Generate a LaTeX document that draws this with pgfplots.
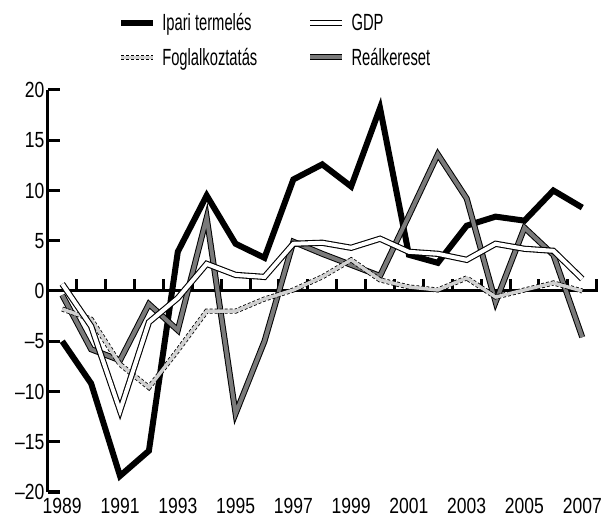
\documentclass[border=0pt]{standalone}
\usepackage{pgfplots}
\pgfplotsset{compat=1.18}
\usepackage{fontspec}
\setmainfont{Liberation Sans}
\newfontfamily\legfont{Liberation Sans}[FakeStretch=0.63]
\newfontfamily\tickfont{Liberation Sans}[FakeStretch=0.8]
\definecolor{realgray}{RGB}{122,122,122}
\definecolor{empgray}{RGB}{208,208,208}
\begin{document}
\begin{tikzpicture}
\path[use as bounding box] (-47.8bp,-28bp) rectangle (555.2bp,492bp);
\begin{axis}[
  scale only axis, width=548.9bp, height=402bp,
  xmin=1988.5, xmax=2007.5, ymin=-20, ymax=20,
  axis x line=none, axis y line=left,
  axis line style={line width=3bp, -},
  every outer y axis line/.append style={-},
  ytick={-20,-15,-10,-5,0,5,10,15,20},
  yticklabels={–20,–15,–10,–5,0,5,10,15,20},
  tick align=inside, major tick length=12bp,
  tick style={line width=3bp, black},
  yticklabel style={font=\tickfont\fontsize{22}{22}\selectfont},
  clip=false,
  legend image code/.code={\draw[#1] (0bp,0bp) -- (32bp,0bp);},
  legend columns=2,
  legend cell align=left,
  legend style={draw=none, fill=none, inner sep=0pt,
    at={(axis description cs:0.128,1)}, anchor=south west, yshift=20bp,
    font=\legfont\fontsize{23.5}{23.5}\selectfont,
    nodes={inner xsep=6bp, inner ysep=3bp},
    row sep=10bp,
    /tikz/every even column/.append style={column sep=44bp}},
]
% zero line and upward tick marks at category boundaries
\addplot[forget plot, draw=black, line width=3bp, line cap=rect] coordinates {(1988.5,0) (2007.5,0)};
\addplot[forget plot, ycomb, draw=black, line width=3bp, mark=none] coordinates {
(1989.5,1.2) (1990.5,1.2) (1991.5,1.2) (1992.5,1.2) (1993.5,1.2) (1994.5,1.2) (1995.5,1.2) (1996.5,1.2) (1997.5,1.2) (1998.5,1.2) (1999.5,1.2) (2000.5,1.2) (2001.5,1.2) (2002.5,1.2) (2003.5,1.2) (2004.5,1.2) (2005.5,1.2) (2006.5,1.2) (2007.5,1.2)};
% Ipari termeles
\addplot[forget plot, draw=black, line width=6bp, line join=miter] coordinates {
(1989,-5.0) (1990,-9.2) (1991,-18.4) (1992,-15.9) (1993,3.9) (1994,9.5) (1995,4.7) (1996,3.3) (1997,11.1) (1998,12.6) (1999,10.4) (2000,18.2) (2001,3.6) (2002,2.8) (2003,6.5) (2004,7.4) (2005,7.0) (2006,10.0) (2007,8.3)};
% Realkereset
\addplot[forget plot, draw=black, line width=1bp, double=realgray, double distance=4bp, line join=miter] coordinates {
(1989,-0.4) (1990,-5.8) (1991,-6.9) (1992,-1.3) (1993,-3.9) (1994,7.3) (1995,-12.2) (1996,-5.0) (1997,4.9) (1998,3.7) (1999,2.6) (2000,1.5) (2001,7.5) (2002,13.6) (2003,9.2) (2004,-1.1) (2005,6.3) (2006,3.6) (2007,-4.6)};
% Foglalkoztatas
\addplot[forget plot, draw=black, line width=5bp, dash pattern=on 3bp off 2bp, line join=miter, postaction={draw=empgray, solid, line width=3.4bp}] coordinates {
(1989,-1.8) (1990,-2.8) (1991,-7.3) (1992,-9.6) (1993,-5.9) (1994,-2.0) (1995,-2.0) (1996,-0.8) (1997,0.1) (1998,1.4) (1999,3.1) (2000,1.1) (2001,0.4) (2002,0.1) (2003,1.3) (2004,-0.6) (2005,0.1) (2006,0.8) (2007,0.0)};
% GDP
\addplot[forget plot, draw=black, line width=1.1bp, double=white, double distance=4bp, line join=miter] coordinates {
(1989,0.7) (1990,-3.5) (1991,-11.9) (1992,-3.1) (1993,-0.7) (1994,2.7) (1995,1.6) (1996,1.4) (1997,4.7) (1998,4.8) (1999,4.3) (2000,5.2) (2001,3.9) (2002,3.7) (2003,3.1) (2004,4.7) (2005,4.2) (2006,4.0) (2007,1.2)};
\addlegendimage{draw=black, line width=6bp}
\addlegendentry{Ipari termelés}
\addlegendimage{draw=black, line width=1.1bp, double=white, double distance=4bp}
\addlegendentry{GDP}
\addlegendimage{draw=black, line width=5bp, dash pattern=on 3bp off 2bp, postaction={draw=empgray, solid, line width=3.4bp}}
\addlegendentry{Foglalkoztatás}
\addlegendimage{draw=black, line width=1bp, double=realgray, double distance=4bp}
\addlegendentry{Reálkereset}
\end{axis}
\begin{axis}[
  scale only axis, width=548.9bp, height=402bp,
  xmin=1988.5, xmax=2007.5, ymin=-20, ymax=20,
  hide y axis, axis x line*=bottom,
  x axis line style={draw=none},
  xtick={1989,1991,1993,1995,1997,1999,2001,2003,2005,2007},
  xticklabels={1989,1991,1993,1995,1997,1999,2001,2003,2005,2007},
  major tick length=0pt,
  xticklabel style={font=\tickfont\fontsize{22}{22}\selectfont, yshift=-3bp},
]
\end{axis}
\end{tikzpicture}
\end{document}
